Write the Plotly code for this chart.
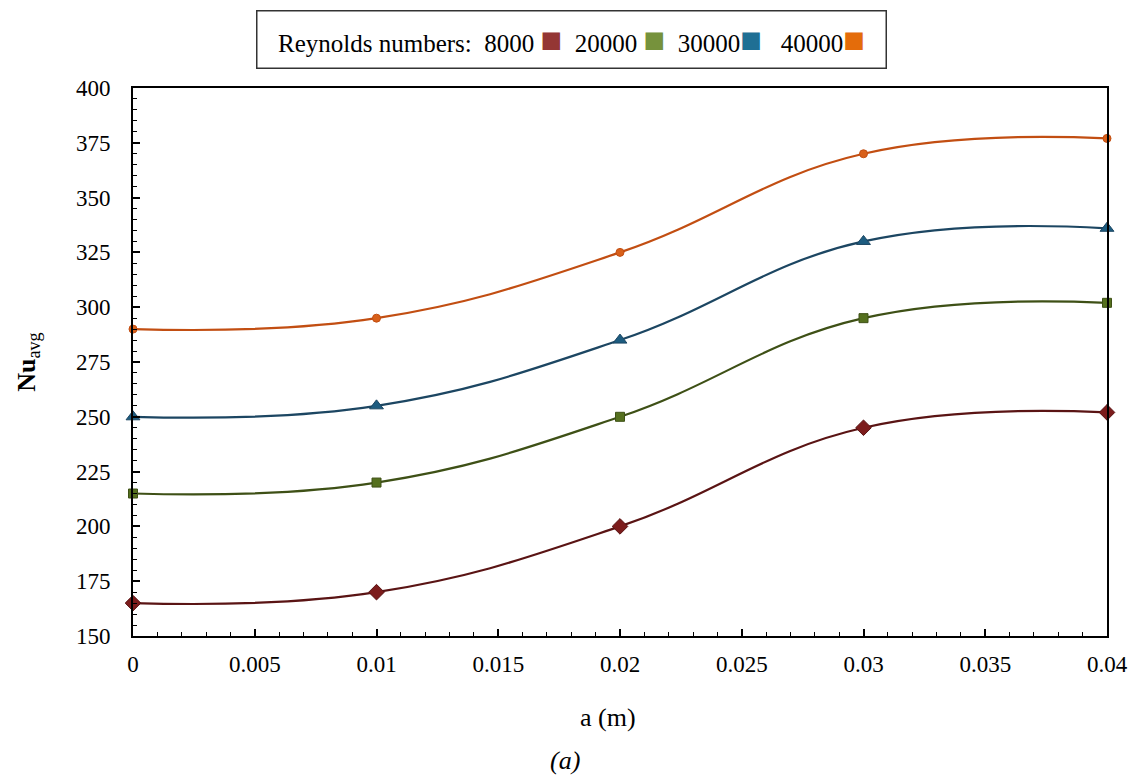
import plotly.graph_objects as go

a_vals = [0, 0.01, 0.02, 0.03, 0.04]
re_labels = ["8000", "20000", "30000", "40000"]
nu_8000 = [165, 170, 200, 245, 252]
nu_20000 = [215, 220, 250, 295, 302]
nu_30000 = [250, 255, 285, 330, 336]
nu_40000 = [290, 295, 325, 370, 377]
series = [nu_8000, nu_20000, nu_30000, nu_40000]

line_colors = ["#5a1414", "#3e5016", "#1c4662", "#c24e12"]
marker_colors = ["#7c1c1c", "#55701e", "#1d5c80", "#d8601a"]
marker_symbols = ["diamond", "square", "triangle-up", "circle"]
marker_sizes = [12, 9, 12, 8]
legend_colors = ["#943634", "#76923c", "#1f6f94", "#e46c0a"]

FONT = "Liberation Serif, Times New Roman, DejaVu Serif, serif"

fig = go.Figure()
for vals, lc, mc, sym, ms, name in zip(series, line_colors, marker_colors, marker_symbols, marker_sizes, re_labels):
    fig.add_trace(go.Scatter(
        x=a_vals, y=vals, mode="lines+markers", name=name,
        line=dict(color=lc, width=2.2, shape="spline", smoothing=1.2),
        marker=dict(symbol=sym, size=ms, color=mc, line=dict(color=lc, width=1)),
        cliponaxis=False, showlegend=False,
    ))

fig.update_xaxes(
    range=[0, 0.04], dtick=0.005, tickformat="~g",
    showline=True, linecolor="black", linewidth=2, mirror=True,
    ticks="inside", ticklen=7, tickwidth=1.5, tickcolor="black",
    minor=dict(ticks="inside", dtick=0.001, ticklen=4, tickwidth=1, tickcolor="black"),
    showgrid=False, zeroline=False,
    tickfont=dict(family=FONT, size=23, color="black"),
    ticklabelstandoff=6,
)
fig.update_yaxes(
    range=[150, 400], dtick=25,
    showline=True, linecolor="black", linewidth=2, mirror=True,
    ticks="inside", ticklen=7, tickwidth=1.5, tickcolor="black",
    minor=dict(ticks="inside", dtick=5, ticklen=4, tickwidth=1, tickcolor="black"),
    showgrid=False, zeroline=False,
    tickfont=dict(family=FONT, size=23, color="black"),
    ticklabelstandoff=16,
)

sq = "<span style='font-size:36px;color:{c}'>■</span>"
legend_text = ("Reynolds numbers:  8000 " + sq.format(c=legend_colors[0]) +
               "  20000 " + sq.format(c=legend_colors[1]) +
               "  30000" + sq.format(c=legend_colors[2]) +
               "   40000" + sq.format(c=legend_colors[3]))

pw, ph = 978, 548
def px(x):
    return (x - 133) / pw
def py(y):
    return 1 + (88 - y) / ph

fig.add_annotation(
    xref="paper", yref="paper", x=px(573), y=py(39), xanchor="center", yanchor="middle",
    text=legend_text, showarrow=False, align="center",
    width=624, height=52, bordercolor="#333", borderwidth=1.5, borderpad=2,
    font=dict(family=FONT, size=25, color="black"), bgcolor="white",
)
fig.add_annotation(
    xref="paper", yref="paper", x=-0.108, y=0.5, textangle=-90,
    text="<b>Nu</b><sub>avg</sub>", showarrow=False,
    font=dict(family=FONT, size=26, color="black"), xanchor="center", yanchor="middle",
)
fig.add_annotation(
    xref="paper", yref="paper", x=px(610), y=py(717), xanchor="center", yanchor="middle",
    text="a (m)", showarrow=False, font=dict(family=FONT, size=26, color="black"),
)
fig.add_annotation(
    xref="paper", yref="paper", x=px(567), y=py(760), xanchor="center", yanchor="middle",
    text="<i>(a)</i>", showarrow=False, font=dict(family=FONT, size=26, color="black"),
)

fig.update_layout(
    width=1140, height=778,
    margin=dict(l=133, r=29, t=88, b=142),
    paper_bgcolor="white", plot_bgcolor="white",
    showlegend=False,
)
fig.write_html("out.html")
